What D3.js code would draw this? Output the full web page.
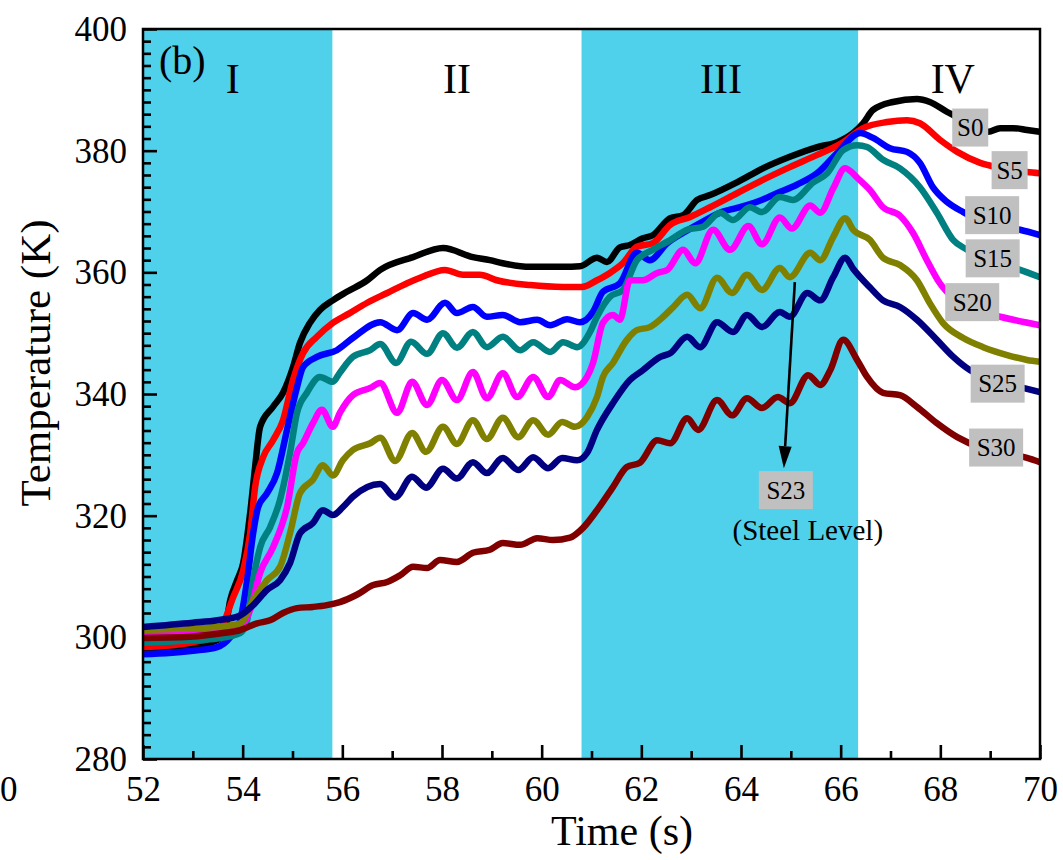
<!DOCTYPE html>
<html><head><meta charset="utf-8">
<script src="https://cdn.jsdelivr.net/npm/d3@7"></script>
<style>
html,body{margin:0;padding:0;background:#fff;}
svg{display:block;font-family:"Liberation Serif","Times New Roman",serif;}
</style></head><body>
<svg id="chart" width="1063" height="860"></svg>
<script>
// Measured temperature traces, [time (s), temperature (K)]
const seriesNames = ["S0", "S5", "S10", "S15", "S20", "S23", "S25", "S30"];
const seriesColors = ["#000000", "#ff0000", "#0000ff", "#008080", "#ff00ff", "#808000", "#000080", "#800000"];

const s0 = [[52.0,297.9],[53.0,298.6],[53.5,299.6],[53.65,301.5],[53.75,306.1],[53.89,309.4],[54.01,312.2],[54.15,320.4],[54.25,328.0],[54.35,334.6],[54.61,337.9],[54.81,340.2],[55.01,344.4],[55.15,348.4],[55.35,351.7],[55.55,353.8],[55.81,355.4],[56.09,356.8],[56.5,358.7],[56.76,360.4],[57.42,362.5],[58.02,364.0],[58.62,362.5],[58.96,362.0],[59.22,361.5],[59.77,360.9],[60.43,360.9],[60.77,361.0],[61.11,362.4],[61.31,361.7],[61.57,364.1],[61.77,364.5],[62.03,365.6],[62.23,366.1],[62.58,368.9],[62.84,369.4],[63.12,371.9],[63.38,372.7],[63.92,374.8],[64.44,377.1],[64.98,379.0],[65.53,380.6],[65.93,381.4],[66.25,382.9],[66.45,384.5],[66.65,386.7],[67.05,388.0],[67.53,388.5],[67.79,388.0],[68.13,386.4],[68.34,385.5],[68.6,384.2],[68.96,383.1],[69.2,383.7],[69.46,383.7],[69.74,383.4],[70.0,383.1]];

const s5 = [[52.0,298.4],[53.0,299.2],[53.45,300.2],[53.55,301.2],[53.81,306.6],[54.01,311.0],[54.15,317.1],[54.25,324.7],[54.41,329.6],[54.61,332.4],[54.81,335.7],[55.01,342.3],[55.21,346.7],[55.49,349.4],[55.81,351.7],[56.15,353.3],[56.5,355.0],[56.9,356.6],[57.3,358.2],[57.56,359.1],[58.06,360.4],[58.42,359.6],[58.76,359.6],[59.1,358.7],[59.77,357.9],[60.43,357.6],[60.81,357.6],[61.11,358.7],[61.37,359.9],[61.63,361.5],[61.91,364.2],[62.23,364.8],[62.58,367.8],[62.98,369.1],[63.38,370.7],[63.92,373.0],[64.44,375.2],[64.98,377.3],[65.53,379.3],[66.05,381.4],[66.45,383.7],[66.93,384.7],[67.33,385.0],[67.59,384.5],[67.99,381.8],[68.34,379.8],[68.8,378.0],[69.2,377.2],[69.74,376.5],[70.0,376.3]];

const s10 = [[52.0,297.2],[53.0,297.8],[53.49,298.4],[53.75,300.0],[53.95,302.8],[54.09,309.4],[54.21,317.1],[54.31,321.4],[54.49,323.7],[54.69,327.0],[54.89,334.1],[55.09,341.1],[55.21,344.4],[55.49,346.1],[55.89,347.2],[56.21,349.2],[56.76,351.8],[57.1,350.5],[57.42,353.3],[57.7,352.2],[58.06,355.0],[58.3,353.3],[58.62,354.3],[58.9,352.7],[59.22,353.0],[59.57,351.8],[59.91,352.2],[60.17,351.3],[60.51,352.3],[60.77,351.8],[61.03,353.5],[61.23,356.8],[61.57,358.2],[61.91,363.2],[62.17,362.0],[62.52,364.8],[62.84,366.5],[63.18,368.1],[63.58,369.8],[63.92,370.6],[64.32,371.6],[64.72,373.0],[65.12,374.4],[65.53,376.3],[65.93,379.6],[66.39,382.9],[66.65,382.1],[66.99,380.4],[67.33,379.8],[67.59,378.0],[67.85,374.0],[68.13,371.6],[68.46,369.9],[68.8,368.5],[69.2,367.6],[69.6,367.0],[70.0,366.1]];

const s15 = [[52.0,299.1],[53.0,299.5],[53.49,299.8],[53.95,300.7],[54.09,302.8],[54.21,309.4],[54.35,314.8],[54.55,318.1],[54.75,322.6],[54.95,330.3],[55.09,336.9],[55.29,340.2],[55.55,342.8],[55.81,342.0],[55.95,343.5],[56.21,346.1],[56.56,347.2],[56.76,348.2],[57.08,345.1],[57.38,348.6],[57.7,346.6],[58.02,350.0],[58.3,347.6],[58.62,350.2],[58.9,347.7],[59.22,349.4],[59.57,347.2],[59.83,348.5],[60.17,346.9],[60.43,348.5],[60.71,347.7],[60.97,350.2],[61.11,352.7],[61.37,356.0],[61.63,357.1],[61.91,362.0],[62.23,363.7],[62.58,365.3],[62.92,367.0],[63.24,367.5],[63.58,369.8],[63.84,368.6],[64.18,370.7],[64.42,369.9],[64.78,372.4],[65.04,371.9],[65.45,374.8],[65.73,376.3],[66.05,380.1],[66.33,380.9],[66.53,380.6],[66.85,378.5],[67.19,377.1],[67.59,374.0],[67.93,369.8],[68.26,365.3],[68.54,363.7],[68.9,362.0],[69.3,361.2],[69.6,360.4],[70.0,359.2]];

const s20 = [[52.0,300.7],[53.0,301.0],[53.49,301.2],[53.95,301.7],[54.15,304.5],[54.35,310.6],[54.61,314.8],[54.89,321.4],[55.09,330.3],[55.21,331.9],[55.41,335.2],[55.59,337.4],[55.81,334.6],[55.95,336.9],[56.21,339.8],[56.56,341.0],[56.76,341.8],[57.1,336.9],[57.4,342.0],[57.7,338.2],[58.0,342.3],[58.3,339.0],[58.62,343.6],[58.9,339.3],[59.22,343.4],[59.51,339.5],[59.83,342.8],[60.13,339.5],[60.37,342.3],[60.67,341.1],[60.91,342.8],[61.03,345.1],[61.23,351.7],[61.43,353.0],[61.57,352.2],[61.77,358.7],[62.03,358.7],[62.32,359.9],[62.52,360.4],[62.84,363.7],[63.08,361.5],[63.44,367.0],[63.78,363.7],[64.15,367.6],[64.42,364.6],[64.78,369.0],[65.02,367.2],[65.39,371.0],[65.59,369.8],[65.85,373.8],[66.09,377.1],[66.35,375.4],[66.59,373.5],[66.85,370.7],[67.19,369.3],[67.45,366.5],[67.73,362.0],[67.99,358.2],[68.3,355.5],[68.6,354.0],[69.2,352.7],[70.0,351.3]];

const s23 = [[52.0,301.2],[53.0,301.5],[53.49,301.7],[53.95,302.3],[54.21,306.1],[54.49,309.4],[54.75,311.6],[54.95,317.1],[55.15,323.7],[55.41,325.9],[55.61,328.3],[55.81,326.6],[56.01,329.1],[56.21,330.8],[56.56,331.9],[56.76,332.8],[57.06,329.0],[57.4,333.6],[57.68,330.5],[58.02,334.6],[58.3,331.8],[58.62,335.7],[58.9,332.6],[59.22,336.1],[59.53,332.9],[59.83,335.7],[60.13,333.3],[60.41,335.4],[60.67,334.6],[60.91,336.2],[61.11,339.5],[61.23,342.8],[61.43,345.1],[61.71,348.9],[61.91,350.5],[62.17,351.0],[62.44,352.7],[62.64,354.3],[62.92,356.3],[63.18,354.1],[63.52,359.1],[63.82,356.6],[64.12,359.6],[64.42,357.1],[64.78,360.7],[64.98,359.2],[65.39,363.2],[65.59,362.0],[65.85,365.8],[66.09,368.9],[66.25,367.0],[66.59,365.3],[66.85,362.4],[67.19,361.2],[67.53,358.7],[67.79,354.9],[68.05,351.7],[68.46,349.2],[68.86,347.7],[69.34,346.4],[69.74,345.6],[70.0,345.3]];

const s25 = [[52.0,301.7],[53.0,302.4],[53.49,302.8],[53.95,303.6],[54.21,305.3],[54.49,307.8],[54.75,309.4],[54.95,312.2],[55.15,317.1],[55.41,318.8],[55.61,320.9],[55.81,320.1],[56.01,321.4],[56.21,323.1],[56.76,325.2],[57.06,323.0],[57.4,326.4],[57.68,324.6],[58.02,327.7],[58.3,326.1],[58.62,328.8],[58.9,327.0],[59.22,329.5],[59.53,327.5],[59.83,329.6],[60.13,327.8],[60.41,329.5],[60.71,329.1],[60.91,330.3],[61.11,334.1],[61.43,338.5],[61.77,342.3],[62.03,343.9],[62.38,346.1],[62.58,346.7],[62.92,349.4],[63.18,347.7],[63.52,351.8],[63.84,350.2],[64.12,353.0],[64.42,351.0],[64.78,353.5],[64.98,352.7],[65.33,356.6],[65.59,355.4],[65.85,359.2],[66.09,362.4],[66.25,360.6],[66.59,357.5],[66.85,355.4],[67.19,354.3],[67.53,352.2],[67.93,348.9],[68.26,346.1],[68.6,343.9],[69.0,342.5],[69.66,341.0],[70.0,340.3]];

const s30 = [[52.0,299.9],[52.94,300.1],[53.61,300.7],[53.95,301.2],[54.29,302.3],[54.55,302.8],[54.81,304.0],[55.09,304.8],[55.41,305.0],[55.69,305.3],[55.95,305.8],[56.29,307.0],[56.62,308.6],[56.9,309.1],[57.16,310.2],[57.42,311.6],[57.7,311.4],[57.96,312.7],[58.3,312.4],[58.62,313.9],[58.96,314.4],[59.22,315.5],[59.57,315.2],[59.91,316.3],[60.23,316.0],[60.57,316.4],[60.83,318.0],[61.11,320.9],[61.43,324.7],[61.71,328.0],[61.97,328.7],[62.32,332.4],[62.58,331.9],[62.92,336.0],[63.14,334.1],[63.52,339.0],[63.82,336.5],[64.12,339.3],[64.42,337.7],[64.74,339.5],[64.98,338.5],[65.35,343.1],[65.59,341.5],[65.79,343.9],[66.05,348.9],[66.33,345.6],[66.53,342.8],[66.85,340.2],[67.19,339.8],[67.53,337.9],[67.93,335.2],[68.34,332.9],[68.8,331.2],[69.3,330.2],[69.74,329.5],[70.0,328.8]];

const seriesValues = [s0, s5, s10, s15, s20, s23, s25, s30];

// Process stages: shaded intervals and their roman numerals
const stageBounds = [52, 55.8, 60.8, 66.35, 70];
const stageLabels = ["I", "II", "III", "IV"];
const stageLabelTimes = [53.8, 58.3, 63.6, 68.25];
const shadedStages = [0, 2];

// Axis ticks
const xTicks = [52, 54, 56, 58, 60, 62, 64, 66, 68, 70];
const xMinorTicks = [53, 55, 57, 59, 61, 63, 65, 67, 69];
const yTicks = [280, 300, 320, 340, 360, 380, 400];
const yMinorTicks = d3.range(282, 400, 2).filter(v => v % 20 !== 0);

// Tag anchors for each trace, [time, temperature]
const tagNames = ["S0", "S5", "S10", "S15", "S20", "S25", "S30", "S23"];
const tagAnchors = [[68.6,383.8],[69.39,376.8],[69.04,369.4],[69.05,362.3],[68.64,355.1],[69.15,341.7],[69.12,331.2],[64.9,324.2]];
// Steel-level arrow, from / to
const arrowFrom = [65.08, 358.4];
const arrowTo = [64.86, 327.8];

const svg = d3.select("#chart");
const plotL = 143, plotR = 1040, plotT = 29, plotB = 759;

const x = d3.scaleLinear().domain([52, 70]).range([plotL, plotR]);
const y = d3.scaleLinear().domain([280, 400]).range([plotB, plotT]);

svg.append("defs").append("clipPath").attr("id", "plotClip")
  .append("rect").attr("x", plotL).attr("y", plotT)
  .attr("width", plotR - plotL).attr("height", plotB - plotT);

// shaded stage bands
svg.append("g").selectAll("rect").data(shadedStages).join("rect")
  .attr("x", i => x(stageBounds[i]))
  .attr("y", plotT)
  .attr("width", i => x(stageBounds[i + 1]) - x(stageBounds[i]))
  .attr("height", plotB - plotT)
  .attr("fill", "#4fd0eb");

// axes with inward ticks
const xAxis = svg.append("g").attr("transform", `translate(0,${plotB})`)
  .call(d3.axisBottom(x).tickValues(xTicks).tickSize(-14).tickFormat(d3.format("d")));
const xMinor = svg.append("g").attr("transform", `translate(0,${plotB})`)
  .call(d3.axisBottom(x).tickValues(xMinorTicks).tickSize(-8).tickFormat(""));
const yAxis = svg.append("g").attr("transform", `translate(${plotL},0)`)
  .call(d3.axisLeft(y).tickValues(yTicks).tickSize(-14).tickFormat(d3.format("d")));
const yMinor = svg.append("g").attr("transform", `translate(${plotL},0)`)
  .call(d3.axisLeft(y).tickValues(yMinorTicks).tickSize(-8).tickFormat(""));

[xAxis, xMinor, yAxis, yMinor].forEach(g => {
  g.select(".domain").remove();
  g.selectAll(".tick line").attr("stroke", "#000").attr("stroke-width", 2.6);
});
xAxis.selectAll(".tick text")
  .attr("y", 42).attr("dy", 0)
  .attr("font-family", "Liberation Serif, Times New Roman, serif")
  .attr("font-size", 35).attr("fill", "#000");
yAxis.selectAll(".tick text")
  .attr("x", -16).attr("dy", "0.33em")
  .attr("font-family", "Liberation Serif, Times New Roman, serif")
  .attr("font-size", 35).attr("fill", "#000");

// traces
const line = d3.line().x(d => x(d[0])).y(d => y(d[1])).curve(d3.curveMonotoneX);
svg.append("g").attr("clip-path", "url(#plotClip)")
  .selectAll("path").data(seriesValues).join("path")
  .attr("d", line)
  .attr("fill", "none")
  .attr("stroke", (d, i) => seriesColors[i])
  .attr("stroke-width", 6.5)
  .attr("stroke-linejoin", "round")
  .attr("stroke-linecap", "round");

// frame
svg.append("rect").attr("x", plotL).attr("y", plotT)
  .attr("width", plotR - plotL).attr("height", plotB - plotT)
  .attr("fill", "none").attr("stroke", "#000").attr("stroke-width", 2.5);

// stage numerals
svg.append("g").selectAll("text").data(stageLabels).join("text")
  .attr("x", (d, i) => x(stageLabelTimes[i]))
  .attr("y", 93)
  .attr("text-anchor", "middle")
  .attr("font-size", 42)
  .text(d => d);

svg.append("text").attr("x", 159).attr("y", 74).attr("font-size", 40).text("(b)");

// steel-level arrow
const ax0 = x(arrowFrom[0]), ay0 = y(arrowFrom[1]);
const ax1 = x(arrowTo[0]), ay1 = y(arrowTo[1]);
const len = Math.hypot(ax1 - ax0, ay1 - ay0);
const ux = (ax1 - ax0) / len, uy = (ay1 - ay0) / len;
const headL = 22, headW = 6.5;
const bx = ax1 - ux * headL, by = ay1 - uy * headL;
svg.append("line").attr("x1", ax0).attr("y1", ay0).attr("x2", bx).attr("y2", by)
  .attr("stroke", "#000").attr("stroke-width", 2.6);
svg.append("path")
  .attr("d", `M${ax1},${ay1}L${bx - uy * headW},${by + ux * headW}L${bx + uy * headW},${by - ux * headW}Z`)
  .attr("fill", "#000");

// trace tags
const tags = svg.append("g").selectAll("g").data(tagNames).join("g")
  .attr("transform", (d, i) => `translate(${x(tagAnchors[i][0])},${y(tagAnchors[i][1])})`);
tags.append("rect")
  .attr("x", d => -9 * d.length).attr("y", -19)
  .attr("width", d => 18 * d.length).attr("height", 38)
  .attr("fill", "#c0c0c0");
tags.append("text")
  .attr("text-anchor", "middle").attr("dy", "0.35em")
  .attr("font-size", 25)
  .text(d => d);

svg.append("text").attr("x", x(65.34)).attr("y", 540)
  .attr("text-anchor", "middle").attr("font-size", 29)
  .text("(Steel Level)");

// axis titles
svg.append("text").attr("x", 622).attr("y", 845)
  .attr("text-anchor", "middle").attr("font-size", 42)
  .text("Time (s)");
svg.append("text")
  .attr("transform", "translate(50,363) rotate(-90)")
  .attr("text-anchor", "middle").attr("font-size", 43)
  .text("Temperature (K)");

// trailing digit of the neighbouring panel's axis label
svg.append("text").attr("x", 0).attr("y", 801)
  .attr("text-anchor", "start").attr("font-size", 35)
  .text("0");
</script>
</body></html>
